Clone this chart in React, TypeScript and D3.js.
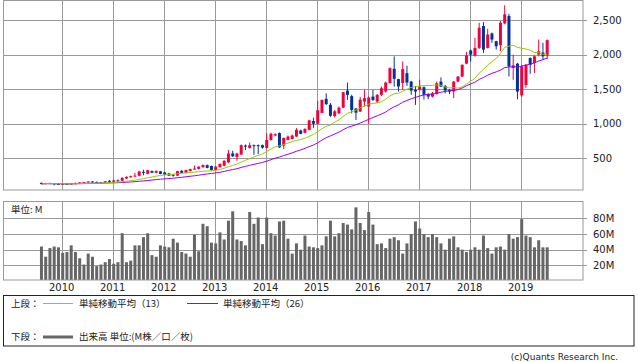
import React from "react";
import * as d3 from "d3";

// monthly candles, Aug 2009 .. Jul 2019
const startYear = 2009;
const startMonth = 7; // 0-based, August

const opens = [
  145, 128, 140, 138, 130, 125, 130, 128, 134, 140,
  150, 155, 165, 158, 150, 148, 175, 160, 180, 176,
  210, 228, 240, 248, 305, 275, 315, 292, 312, 295,
  280, 262, 250, 320, 290, 318, 340, 348, 372, 402,
  390, 332, 372, 392, 440, 570, 520, 555, 685, 650,
  690, 690, 690, 650, 765, 830, 865, 683, 766, 780,
  815, 903, 870, 912, 1039, 1000, 1156, 1360, 1275, 1110,
  1150, 1233, 1480, 1400, 1220, 1176, 1321, 1250, 1393, 1321,
  1418, 1466, 1590, 1795, 1645, 1590, 1732, 1610, 1490, 1490,
  1528, 1432, 1393, 1432, 1610, 1548, 1490, 1466, 1610, 1683,
  1870, 2060, 1985, 2097, 2413, 2097, 2306, 2194, 2136, 2451,
  2558, 1806, 1869, 1410, 1560, 1951, 1879, 2000, 2030, 1985,
];
const highs = [
  150, 145, 148, 142, 138, 135, 140, 140, 150, 155,
  158, 170, 172, 165, 158, 172, 185, 190, 195, 225,
  240, 250, 290, 320, 335, 335, 325, 325, 318, 305,
  290, 268, 320, 330, 335, 350, 395, 385, 412, 410,
  395, 385, 425, 470, 620, 610, 580, 700, 700, 730,
  700, 700, 700, 860, 870, 860, 875, 800, 830, 845,
  937, 915, 935, 1060, 1088, 1330, 1350, 1440, 1300, 1200,
  1250, 1460, 1596, 1420, 1230, 1390, 1490, 1395, 1490, 1430,
  1540, 1610, 1815, 1975, 1650, 1900, 1838, 1620, 1546, 1636,
  1540, 1440, 1460, 1610, 1670, 1560, 1500, 1620, 1690, 1860,
  2040, 2075, 2243, 2460, 2470, 2374, 2320, 2200, 2485, 2713,
  2592, 2000, 1880, 1850, 1860, 1960, 1990, 2218, 2170, 2218,
];
const lows = [
  125, 125, 132, 110, 122, 115, 122, 120, 128, 135,
  140, 150, 150, 145, 140, 145, 150, 155, 165, 170,
  200, 218, 235, 240, 255, 268, 285, 285, 270, 260,
  245, 235, 245, 285, 285, 310, 335, 340, 365, 355,
  325, 325, 365, 385, 435, 520, 465, 545, 620, 640,
  550, 560, 640, 640, 755, 820, 650, 634, 760, 775,
  810, 850, 860, 905, 941, 995, 1150, 1270, 1100, 1090,
  1140, 1225, 1345, 1150, 1055, 1170, 1250, 1000, 1330, 1300,
  1400, 1450, 1580, 1538, 1466, 1490, 1548, 1420, 1273, 1480,
  1350, 1355, 1380, 1420, 1530, 1440, 1428, 1370, 1600, 1675,
  1860, 1900, 1970, 2080, 2024, 2090, 2170, 2073, 2050, 2440,
  1684, 1636, 1354, 1390, 1520, 1723, 1733, 1976, 1927, 1937,
];
const closes = [
  128, 140, 136, 128, 125, 130, 127, 134, 140, 152,
  156, 165, 155, 150, 148, 168, 160, 180, 172, 218,
  232, 242, 250, 310, 290, 328, 292, 318, 275, 265,
  250, 248, 315, 290, 330, 345, 352, 380, 402, 362,
  332, 380, 420, 465, 570, 530, 570, 690, 670, 690,
  680, 680, 655, 765, 855, 850, 660, 795, 815, 830,
  912, 854, 925, 1049, 1000, 1195, 1345, 1285, 1115, 1180,
  1233, 1456, 1418, 1200, 1160, 1348, 1370, 1380, 1345, 1418,
  1514, 1596, 1804, 1650, 1540, 1790, 1596, 1480, 1466, 1538,
  1418, 1393, 1442, 1586, 1538, 1480, 1466, 1610, 1683, 1852,
  1987, 2000, 2097, 2388, 2073, 2291, 2218, 2121, 2461, 2583,
  1830, 1845, 1466, 1830, 1854, 1854, 1976, 2049, 1976, 2209,
];
// volume in millions
const volumes = [
  44, 31, 42, 44, 43, 36, 37, 45.5, 37, 29,
  21, 35, 31, 19, 21, 24, 28, 22, 24, 61,
  24, 26, 45.5, 45.5, 56, 61, 33, 31, 45.5, 44,
  43, 54, 49, 37, 35, 31, 59, 38, 73, 70,
  49, 48, 62, 53, 77, 89, 53, 51, 45.5, 88,
  73, 81, 47, 81, 61, 58, 76, 77, 54, 35,
  48, 40, 58, 44, 43, 42, 45.5, 57, 77, 57,
  61, 74, 72, 66, 94, 74, 65, 88, 72, 47,
  48, 42, 54, 56, 52, 35, 48, 60, 76, 67,
  60, 56, 60, 56, 48, 40, 54, 57, 43, 40,
  37, 40, 43, 40, 58, 42, 35, 43, 44, 40,
  60, 54, 56, 79, 58, 56, 43, 52, 43, 43,
];

const years = [2010, 2011, 2012, 2013, 2014, 2015, 2016, 2017, 2018, 2019];
const priceTicks = [500, 1000, 1500, 2000, 2500];
const volumeTicks = [20, 40, 60, 80];

const RED = "#f0003c";
const BLUE = "#003399";
const GREEN = "#99cc00";
const PURPLE = "#9900ff";
const VOL = "#666666";
const GRID = "#999999";
const JP = "'Noto Sans CJK JP', sans-serif";
const LAT = "'DejaVu Sans', sans-serif";

const sma = (arr, n) =>
  arr.map((_, i) => d3.mean(arr.slice(Math.max(0, i - n + 1), i + 1)));

export default function App() {
  const left = 3, right = 583;
  const xs = d3.scaleLinear().domain([2010, 2019]).range([61.7, 520.7]);
  const ys = d3.scaleLinear().domain([0, 2790]).range([192.9, 0]);
  const vs = d3.scaleLinear().domain([0, 100]).range([281, 202.65]);
  const tOf = (i) => startYear + (startMonth + i) / 12;
  const crisp = (v) => Math.round(v) + 0.5;

  const ma13 = sma(closes, 13);
  const ma26 = sma(closes, 26);
  const line = d3.line().x((d, i) => xs(tOf(i)) + 1).y((d) => ys(d));

  return (
    <svg width={638} height={362} style={{ position: "absolute", left: 0, top: 0, background: "#fff" }}>
      <defs>
        <clipPath id="top">
          <rect x={left} y={0} width={right - left} height={190} />
        </clipPath>
      </defs>

      {/* price panel grid */}
      {years.map((y) => (
        <g key={"gy" + y}>
          <line x1={crisp(xs(y))} x2={crisp(xs(y))} y1={0} y2={190} stroke={GRID} />
          <line x1={crisp(xs(y))} x2={crisp(xs(y))} y1={201} y2={280} stroke={GRID} />
          <text x={xs(y)} y={291} textAnchor="middle" fontFamily={LAT} fontSize={10} fill="#222">{y}</text>
        </g>
      ))}
      {priceTicks.map((v) => (
        <g key={"pt" + v}>
          <line x1={left} x2={right + 4} y1={crisp(ys(v))} y2={crisp(ys(v))} stroke={GRID} />
          <text x={593} y={ys(v) + 3.6} fontFamily={LAT} fontSize={10} fill="#222">{d3.format(",")(v)}</text>
        </g>
      ))}
      <rect x={left + 0.5} y={0.5} width={right - left - 0.5} height={189.5} fill="none" stroke={GRID} />

      {/* candles */}
      <g clipPath="url(#top)">
        {closes.map((c, i) => {
          const cx = xs(tOf(i)) + 1;
          const up = c >= opens[i];
          const col = up ? RED : BLUE;
          const y0 = ys(Math.max(opens[i], c));
          const y1 = ys(Math.min(opens[i], c));
          return (
            <g key={"c" + i}>
              <line x1={cx} x2={cx} y1={ys(highs[i])} y2={ys(lows[i])} stroke={col} strokeWidth={1} />
              <rect x={cx - 1.5} y={y0} width={3} height={Math.max(1, y1 - y0)} fill={col} />
            </g>
          );
        })}
        <path d={line(ma26)} fill="none" stroke={PURPLE} strokeWidth={1} />
        <path d={line(ma13)} fill="none" stroke={GREEN} strokeWidth={1} />
      </g>

      {/* volume panel */}
      {volumeTicks.map((v) => (
        <g key={"vt" + v}>
          <line x1={left} x2={right + 4} y1={crisp(vs(v))} y2={crisp(vs(v))} stroke={GRID} />
          <text x={593} y={vs(v) + 3.6} fontFamily={LAT} fontSize={10} fill="#222">{v + "M"}</text>
        </g>
      ))}
      {volumes.map((v, i) => (
        <rect key={"v" + i} x={xs(tOf(i)) - 0.5} y={vs(v)} width={3} height={280 - vs(v)} fill={VOL} />
      ))}
      <rect x={left + 0.5} y={201.5} width={right - left - 0.5} height={78.5} fill="none" stroke={GRID} />
      <text x={11} y={213} fontFamily={JP} fontSize={9.5} fill="#222">単位: M</text>

      {/* legend */}
      <rect x={3.5} y={295.5} width={630.5} height={50.5} fill="none" stroke="#222" />
      <text x={11} y={306.5} fontFamily={JP} fontSize={9.5} fill="#222">上段：</text>
      <line x1={43} x2={73} y1={303.5} y2={303.5} stroke={GREEN} />
      <text x={79} y={306.5} fontFamily={JP} fontSize={9.5} fill="#222">単純移動平均（13）</text>
      <line x1={187} x2={218} y1={303.5} y2={303.5} stroke={PURPLE} />
      <text x={223} y={306.5} fontFamily={JP} fontSize={9.5} fill="#222">単純移動平均（26）</text>
      <text x={11} y={340} fontFamily={JP} fontSize={9.5} fill="#222">下段：</text>
      <line x1={43} x2={73} y1={337} y2={337} stroke={VOL} strokeWidth={3} />
      <text x={79} y={340} fontFamily={JP} fontSize={9.5} fill="#222">出来高 単位:(M株／口／枚)</text>

      <text x={618} y={360} textAnchor="end" fontFamily={LAT} fontSize={9} fill="#222">(c)Quants Research Inc.</text>
    </svg>
  );
}
